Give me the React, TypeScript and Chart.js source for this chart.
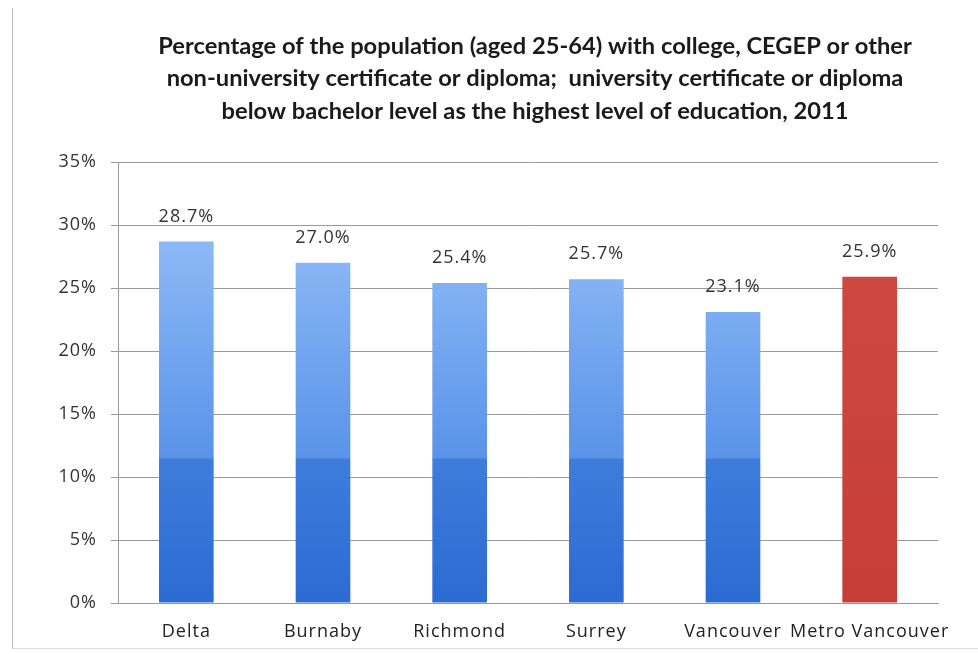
import React, { useEffect, useRef } from "react";
import { Chart, registerables } from "chart.js";

Chart.register(...registerables);

const titleLines = [
  "Percentage of the population (aged 25-64) with college, CEGEP or other",
  "non-university certificate or diploma;  university certificate or diploma",
  "below bachelor level as the highest level of education, 2011",
];
const categories = ["Delta", "Burnaby", "Richmond", "Surrey", "Vancouver", "Metro Vancouver"];
const values = [28.7, 27.0, 25.4, 25.7, 23.1, 25.9];
const highlight = [false, false, false, false, false, true];
const yMax = 35;
const yStep = 5;

export default function App() {
  const ref = useRef<HTMLCanvasElement>(null);
  useEffect(() => {
    const canvas = ref.current!;
    const spacingPlugin = {
      id: "spacing",
      beforeDraw(chart: any) {
        (chart.ctx as any).letterSpacing = "1px";
      },
    };
    const titlePlugin = {
      id: "customTitle",
      afterDraw(chart: any) {
        const { ctx, chartArea } = chart;
        ctx.save();
        (ctx as any).letterSpacing = "0px";
        ctx.font = "bold 23.7px Lato, 'DejaVu Sans', sans-serif";
        ctx.fillStyle = "#1a1a1a";
        ctx.textAlign = "center";
        ctx.textBaseline = "middle";
        const cx = (chartArea.left + chartArea.right) / 2 + 7;
        titleLines.forEach((l, i) => ctx.fillText(l, cx, 46 + i * 32.5));
        ctx.restore();
      },
    };
    const labelPlugin = {
      id: "valueLabels",
      afterDatasetsDraw(chart: any) {
        const { ctx } = chart;
        const meta = chart.getDatasetMeta(0);
        ctx.save();
        (ctx as any).letterSpacing = "1px";
        ctx.font = "18px 'Open Sans', sans-serif";
        ctx.fillStyle = "#333";
        ctx.textAlign = "center";
        ctx.textBaseline = "middle";
        meta.data.forEach((el: any, i: number) => {
          ctx.fillText(values[i].toFixed(1) + "%", el.x, el.y - 25);
        });
        ctx.restore();
      },
    };
    const chart = new Chart(canvas, {
      type: "bar",
      data: {
        labels: categories,
        datasets: [
          {
            data: values,
            barPercentage: 0.4,
            categoryPercentage: 1,
            backgroundColor: (c: any) => {
              const chart = c.chart;
              const area = chart.chartArea;
              if (!area) return "#4a86e0";
              const ys = chart.scales.y;
              const y0 = ys.getPixelForValue(0);
              const y1 = ys.getPixelForValue(30);
              const g = chart.ctx.createLinearGradient(0, y0, 0, y1);
              if (highlight[c.dataIndex]) {
                g.addColorStop(0, "#c63d36");
                g.addColorStop(1, "#cf4a43");
              } else {
                g.addColorStop(0, "#2b6bd2");
                g.addColorStop(0.38, "#3f7ddc");
                g.addColorStop(0.385, "#5a93e8");
                g.addColorStop(1, "#90bbf7");
              }
              return g;
            },
            borderWidth: 0,
          },
        ],
      },
      options: {
        animation: false,
        responsive: false,
        layout: { padding: { left: 12, right: 40, top: 162, bottom: 0 } },
        plugins: { legend: { display: false }, tooltip: { enabled: false }, title: { display: false } },
        scales: {
          x: {
            grid: { display: false, drawTicks: true },
            border: { display: true, color: "#9a9a9a" },
            ticks: { color: "#222", font: { size: 18, family: "'Open Sans', sans-serif" }, padding: 10, maxRotation: 0, autoSkip: false },
            afterFit: (s: any) => { s.height = 51; },
          },
          y: {
            min: 0,
            max: yMax,
            ticks: {
              stepSize: yStep,
              color: "#333",
              font: { size: 18, family: "'Open Sans', sans-serif" },
              padding: 14,
              callback: (v: any) => v + "%",
            },
            grid: { color: "#9a9a9a", tickLength: 7, drawTicks: true },
            border: { display: true, color: "#9a9a9a" },
            afterFit: (s: any) => { s.width = 106; },
          },
        },
      },
      plugins: [spacingPlugin, titlePlugin, labelPlugin],
    });
    return () => chart.destroy();
  }, []);
  return (
    <div style={{ position: "fixed", left: 0, top: 0, width: 978, height: 654, background: "#fff" }}>
      <div style={{ position: "absolute", left: 12, top: 8, width: 966, height: 640, borderLeft: "1px solid #bbb", borderBottom: "1px solid #ddd" }} />
      <canvas ref={ref} width={978} height={654} style={{ position: "absolute", left: 0, top: 0 }} />
    </div>
  );
}
